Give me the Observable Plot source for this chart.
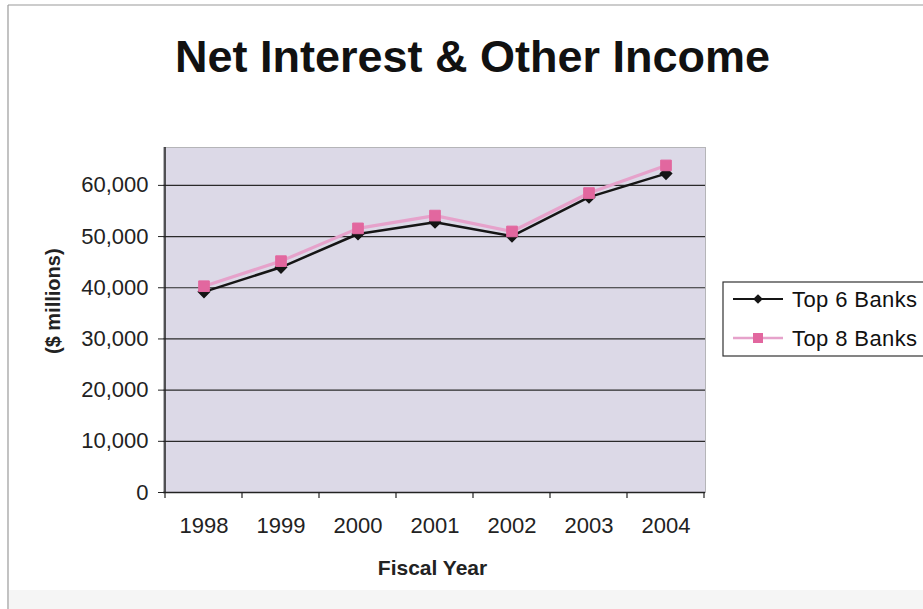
<!DOCTYPE html>
<html>
<head>
<meta charset="utf-8">
<script src="https://cdn.jsdelivr.net/npm/d3@7"></script>
<script src="https://cdn.jsdelivr.net/npm/@observablehq/plot@0.6"></script>
<style>
  html, body { margin: 0; padding: 0; background: #fff; }
</style>
</head>
<body>
<div id="chart"></div>
<script>
const years = ["1998", "1999", "2000", "2001", "2002", "2003", "2004"];
const top6 = [39200, 44000, 50500, 52800, 50100, 57700, 62300];
const top8 = [40300, 45200, 51600, 54100, 51000, 58500, 63900];
const seriesNames = ["Top 6 Banks", "Top 8 Banks"];
const yTicks = [0, 10000, 20000, 30000, 40000, 50000, 60000];
const titleText = "Net Interest & Other Income";
const xTitle = "Fiscal Year";
const yTitle = "($ millions)";

const rows6 = years.map((y, i) => ({year: y, value: top6[i], series: seriesNames[0]}));
const rows8 = years.map((y, i) => ({year: y, value: top8[i], series: seriesNames[1]}));

const font = "'Liberation Sans', Arial, sans-serif";
const pinkLine = "#e6a2cb";
const pinkMark = "#e2679f";
const black = "#151515";

const plot = Plot.plot({
  width: 923,
  height: 609,
  marginLeft: 163,
  marginRight: 218,
  marginTop: 147,
  marginBottom: 117,
  style: {fontFamily: font, fontSize: "22px", background: "#fff", color: "#222", overflow: "visible"},
  x: {type: "band", domain: years, padding: 0, label: null, tickSize: 0, tickPadding: 25},
  y: {domain: [0, 67400], ticks: yTicks, tickFormat: d3.format(","), label: null, tickSize: 5, tickPadding: 10},
  marks: [
    Plot.frame({fill: "#dcd9e7", stroke: "#b5b5b8"}),
    Plot.ruleY(yTicks.filter(d => d > 0), {stroke: "#2a2a2a", strokeWidth: 1.2}),
    Plot.ruleY([0], {stroke: "#222", strokeWidth: 1.5}),
    Plot.line(rows6, {x: "year", y: "value", stroke: black, strokeWidth: 2.5}),
    Plot.dot(rows6, {x: "year", y: "value", symbol: "diamond2", r: 5, fill: black, stroke: black}),
    Plot.line(rows8, {x: "year", y: "value", stroke: pinkLine, strokeWidth: 3.2}),
    Plot.dot(rows8, {x: "year", y: "value", symbol: "square", r: 6, fill: pinkMark, stroke: pinkMark, strokeWidth: 1}),
    Plot.text([titleText], {frameAnchor: "top", dx: 38, dy: -90, lineAnchor: "middle", fontSize: 45, fontWeight: "bold", fill: "#111"}),
    Plot.text([xTitle], {frameAnchor: "bottom", dx: -2, dy: 76, lineAnchor: "middle", fontSize: 21, fontWeight: "bold", fill: "#222"}),
    Plot.text([yTitle], {frameAnchor: "left", dx: -110, dy: 34, rotate: -90, lineAnchor: "middle", fontSize: 20, fontWeight: "bold", fill: "#222"})
  ]
});

document.getElementById("chart").appendChild(plot);

const svg = d3.select(plot);
const xs = plot.scale("x");
const ys = plot.scale("y");
const y0 = ys.apply(0);
const x0 = xs.apply(years[0]);
const xEnd = xs.apply(years[years.length - 1]) + xs.bandwidth;
const yTop = ys.apply(ys.domain[1]);

// outer border of the chart area (scan edges)
svg.append("line").attr("x1", 8).attr("x2", 8).attr("y1", 5).attr("y2", 609).attr("stroke", "#9a9a9a").attr("stroke-width", 1.2);
svg.append("line").attr("x1", 8).attr("x2", 923).attr("y1", 5).attr("y2", 5).attr("stroke", "#9a9a9a").attr("stroke-width", 1.2);
svg.append("rect").attr("x", 9).attr("y", 590).attr("width", 914).attr("height", 19).attr("fill", "#f5f5f5");

// y axis line
svg.append("line").attr("x1", x0).attr("x2", x0).attr("y1", yTop).attr("y2", y0 + 0.5).attr("stroke", "#222").attr("stroke-width", 1.5);

// x tick marks at band boundaries
const bounds = years.map(y => xs.apply(y)).concat([xEnd]);
svg.append("g").selectAll("line").data(bounds).join("line")
  .attr("x1", d => d).attr("x2", d => d).attr("y1", y0).attr("y2", y0 + 6)
  .attr("stroke", "#222").attr("stroke-width", 1.2);

// legend
const lg = svg.append("g").attr("transform", "translate(723,282)");
lg.append("rect").attr("x", 0).attr("y", 0).attr("width", 230).attr("height", 74)
  .attr("fill", "#fff").attr("stroke", "#333").attr("stroke-width", 1.2);
const legendItems = [
  {name: seriesNames[0], line: black, mark: black, sym: d3.symbolDiamond2, size: 60, y: 17},
  {name: seriesNames[1], line: pinkLine, mark: pinkMark, sym: d3.symbolSquare, size: 100, y: 56}
];
legendItems.forEach(it => {
  lg.append("line").attr("x1", 10).attr("x2", 60).attr("y1", it.y).attr("y2", it.y)
    .attr("stroke", it.line).attr("stroke-width", it.line === black ? 2 : 2.5);
  lg.append("path").attr("d", d3.symbol(it.sym, it.size)()).attr("transform", `translate(35,${it.y})`)
    .attr("fill", it.mark);
  lg.append("text").attr("x", 69).attr("y", it.y).attr("dy", "0.36em")
    .attr("text-anchor", "start").attr("letter-spacing", "0.4")
    .attr("font-family", font).attr("font-size", 22).attr("fill", "#111").text(it.name);
});
</script>
</body>
</html>
